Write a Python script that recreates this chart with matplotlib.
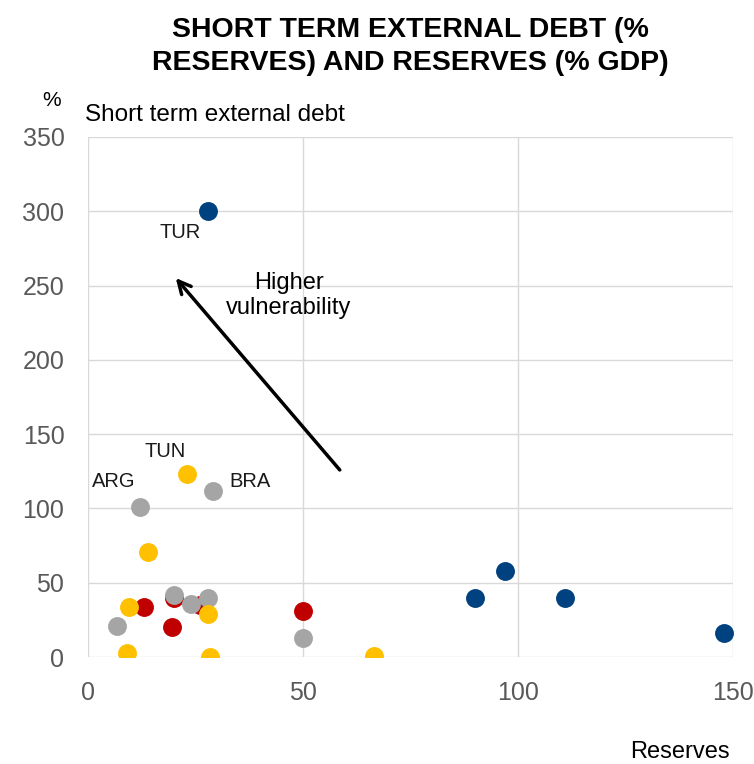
import matplotlib
matplotlib.use("Agg")
import matplotlib.pyplot as plt

plt.rcParams['font.family'] = ['Liberation Sans', 'DejaVu Sans']

# Reserves (% GDP) vs short term external debt (% reserves), by group
blue_x = [28, 90, 97, 111, 148]
blue_y = [300, 40, 58, 40, 16]

red_x = [13, 19.5, 20, 26, 50]
red_y = [34, 20, 40, 35, 31]

gray_x = [12, 29, 6.7, 20, 24, 28, 50]
gray_y = [101, 112, 21, 42, 36, 40, 13]

yellow_x = [23, 14, 9.5, 9, 28, 28.5, 66.5]
yellow_y = [123, 71, 34, 3, 29, 0, 1]

labels = ["TUR", "TUN", "ARG", "BRA"]
label_pos = [(21.4, 286), (18, 138.6), (6, 118), (37.7, 118.4)]

x_ticks = [0, 50, 100, 150]
y_ticks = [0, 50, 100, 150, 200, 250, 300, 350]

fig = plt.figure(figsize=(7.54, 7.64), dpi=100)
ax = fig.add_axes([0.1167, 0.140, 0.855, 0.6807])

ms = 185
ax.scatter(red_x, red_y, s=ms, color='#C00000', zorder=3, linewidths=0)
ax.scatter(gray_x, gray_y, s=ms, color='#A5A5A5', zorder=4, linewidths=0)
ax.scatter(yellow_x, yellow_y, s=ms, color='#FFC000', zorder=5, linewidths=0)
ax.scatter(blue_x, blue_y, s=ms, color='#00427F', zorder=6, linewidths=0)

for lab, (lx, ly) in zip(labels, label_pos):
    ax.text(lx, ly, lab, fontsize=14.5, ha='center', va='center', color='#1a1a1a')

# arrow for higher vulnerability
ax.annotate('', xy=(20, 256.5), xytext=(59, 124.5),
            arrowprops=dict(arrowstyle='->,head_length=0.9,head_width=0.45',
                            color='black', lw=2.5), zorder=7)
ax.text(46.7, 243.5, 'Higher\nvulnerability', fontsize=17, ha='center',
        va='center', linespacing=1.2)

ax.set_xlim(0, 150)
ax.set_ylim(0, 350)
ax.set_xticks(x_ticks)
ax.set_yticks(y_ticks)
ax.grid(True, color='#D9D9D9', lw=1)
ax.set_axisbelow(True)
for s in ax.spines.values():
    s.set_visible(False)
ax.tick_params(length=0, labelsize=18, labelcolor='#595959', pad=17)

fig.text(0.544, 0.9385, 'SHORT TERM EXTERNAL DEBT (%\nRESERVES) AND RESERVES (% GDP)',
         ha='center', va='center', fontsize=20.5, fontweight='bold', linespacing=1.35)
fig.text(0.068, 0.868, '%', ha='center', va='center', fontsize=15)
fig.text(0.113, 0.850, 'Short term external debt', ha='left', va='center', fontsize=17.5)
fig.text(0.968, 0.016, 'Reserves', ha='right', va='center', fontsize=17)

fig.savefig('out.png', dpi=100)
